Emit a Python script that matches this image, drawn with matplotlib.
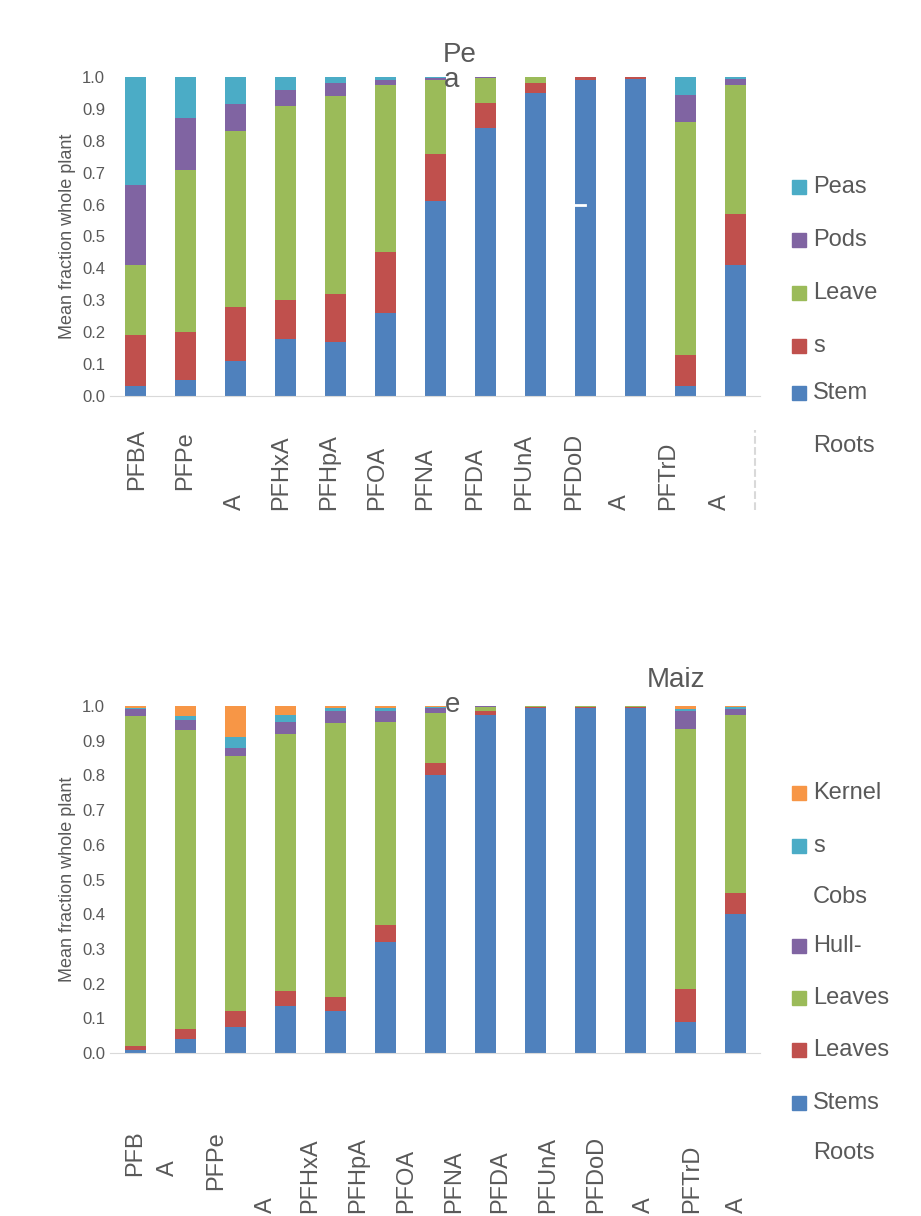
import matplotlib.pyplot as plt
import numpy as np
from matplotlib.patches import Rectangle

plt.rcParams['font.family'] = ['Liberation Sans', 'DejaVu Sans']
GREY = '#595959'

# cumulative tops, bottom -> top
pea_layers = ['Roots', 'Stem', 'Leaves', 'Pods', 'Peas']
pea_cum = [
    [.03, .19, .41, .66, 1], [.05, .20, .71, .87, 1], [.11, .28, .83, .915, 1],
    [.18, .30, .91, .96, 1], [.17, .32, .94, .98, 1], [.26, .45, .975, .99, 1],
    [.61, .76, .99, .997, 1], [.84, .92, .997, .999, 1], [.95, .98, 1, 1, 1],
    [.99, 1, 1, 1, 1], [.995, 1, 1, 1, 1], [.03, .13, .86, .945, 1],
    [.41, .57, .975, .995, 1]]
maize_layers = ['Roots', 'Stems', 'Leaves', 'Hull-Leaves', 'Cobs', 'Kernels']
maize_cum = [
    [.01, .02, .97, .99, .995, 1], [.04, .07, .93, .96, .97, 1],
    [.075, .12, .855, .88, .91, 1], [.135, .18, .92, .955, .975, 1],
    [.12, .16, .95, .985, .995, 1], [.32, .37, .955, .985, .995, 1],
    [.80, .835, .98, .995, .998, 1], [.975, .985, .998, 1, 1, 1],
    [.995, .997, 1, 1, 1, 1], [.995, .998, 1, 1, 1, 1], [.993, .997, 1, 1, 1, 1],
    [.09, .185, .935, .985, .99, 1], [.40, .46, .975, .99, .998, 1]]

# wrapped tick labels as they appear, with their level
pea_ticks = [('PFBA', 1), ('PFPe', 1), ('A', 0), ('PFHxA', 0), ('PFHpA', 0), ('PFOA', 0),
             ('PFNA', 0), ('PFDA', 0), ('PFUnA', 0), ('PFDoD', 0), ('A', 0), ('PFTrD', 0), ('A', 0)]
maize_ticks = [('PFB', 3), ('A', 3), ('PFPe', 2), ('A', 0), ('PFHxA', 0), ('PFHpA', 0), ('PFOA', 0),
               ('PFNA', 0), ('PFDA', 0), ('PFUnA', 0), ('PFDoD', 0), ('A', 0), ('PFTrD', 0), ('A', 0)]

colors = ['#4f81bd', '#c0504d', '#9bbb59', '#8064a2', '#4bacc6', '#f79646']

W, H = 921, 1216
fig = plt.figure(figsize=(W / 100, H / 100), dpi=100)


def fx(px):
    return px / W


def fy(py):
    return 1 - py / H


def panel(top, bottom, cum, title_parts, ticks, tick_y, tick_x, legend):
    ax = fig.add_axes([fx(110), fy(bottom), fx(760) - fx(110), fy(top) - fy(bottom)])
    cum = np.array(cum)
    x = np.arange(len(cum))
    prev = np.zeros(len(cum))
    for k in range(cum.shape[1]):
        ax.bar(x, cum[:, k] - prev, bottom=prev, width=0.42, color=colors[k])
        prev = cum[:, k]
    ax.set_xlim(-0.5, len(cum) - 0.5)
    ax.set_ylim(0, 1)
    yt = np.arange(0, 1.01, 0.1)
    ax.set_yticks(yt)
    ax.set_yticklabels(['%.1f' % v for v in yt], fontsize=12, color=GREY)
    ax.set_xticks([])
    ax.tick_params(axis='y', length=0)
    for s in ['top', 'right', 'left']:
        ax.spines[s].set_visible(False)
    ax.spines['bottom'].set_color('#d9d9d9')
    ax.set_ylabel('Mean fraction whole plant', fontsize=13, color=GREY)
    for t, px, py in title_parts:
        fig.text(fx(px), fy(py), t, fontsize=20, color=GREY, ha='center', va='center')
    for (t, lvl), px in zip(ticks, tick_x):
        fig.text(fx(px), fy(tick_y[lvl]), t, rotation=90, fontsize=17, color=GREY,
                 ha='center', va='bottom')
    for txt, py, ci in legend:
        if ci is not None:
            fig.patches.append(Rectangle((fx(792), fy(py) - 7 / H), 14 / W, 14 / H,
                                         transform=fig.transFigure, color=colors[ci]))
        if txt:
            fig.text(fx(813), fy(py), txt, fontsize=17, color=GREY, va='center')
    return ax


pea_x = [137, 185, 235, 281, 329, 377, 425, 475, 524, 574, 620, 668, 720]
ax1 = panel(77, 396, pea_cum, [('Pe', 460, 55), ('a', 452, 80)], pea_ticks,
            {1: 490, 0: 510}, pea_x,
            [('Peas', 187, 4), ('Pods', 240, 3), ('Leave', 293, 2),
             ('s', 346, 1), ('Stem', 393, 0), ('Roots', 446, None)])
ax1.plot([8.3, 9.0], [0.6, 0.6], color='white', lw=2)
fig.add_artist(plt.Line2D([fx(755), fx(755)], [fy(510), fy(430)], color='#d9d9d9',
                          lw=1.5, ls='--'))

maize_x = [135, 168, 216, 266, 310, 358, 406, 454, 500, 548, 596, 644, 692, 737]
ax2 = panel(706, 1053, maize_cum, [('Maiz', 676, 680), ('e', 453, 705)], maize_ticks,
            {3: 1176, 2: 1190, 0: 1213}, maize_x,
            [('Kernel', 793, 5), ('s', 846, 4), ('Cobs', 897, None), ('Hull-', 946, 3),
             ('Leaves', 998, 2), ('Leaves', 1050, 1), ('Stems', 1103, 0), ('Roots', 1153, None)])
fig.savefig('out.png', dpi=100)
